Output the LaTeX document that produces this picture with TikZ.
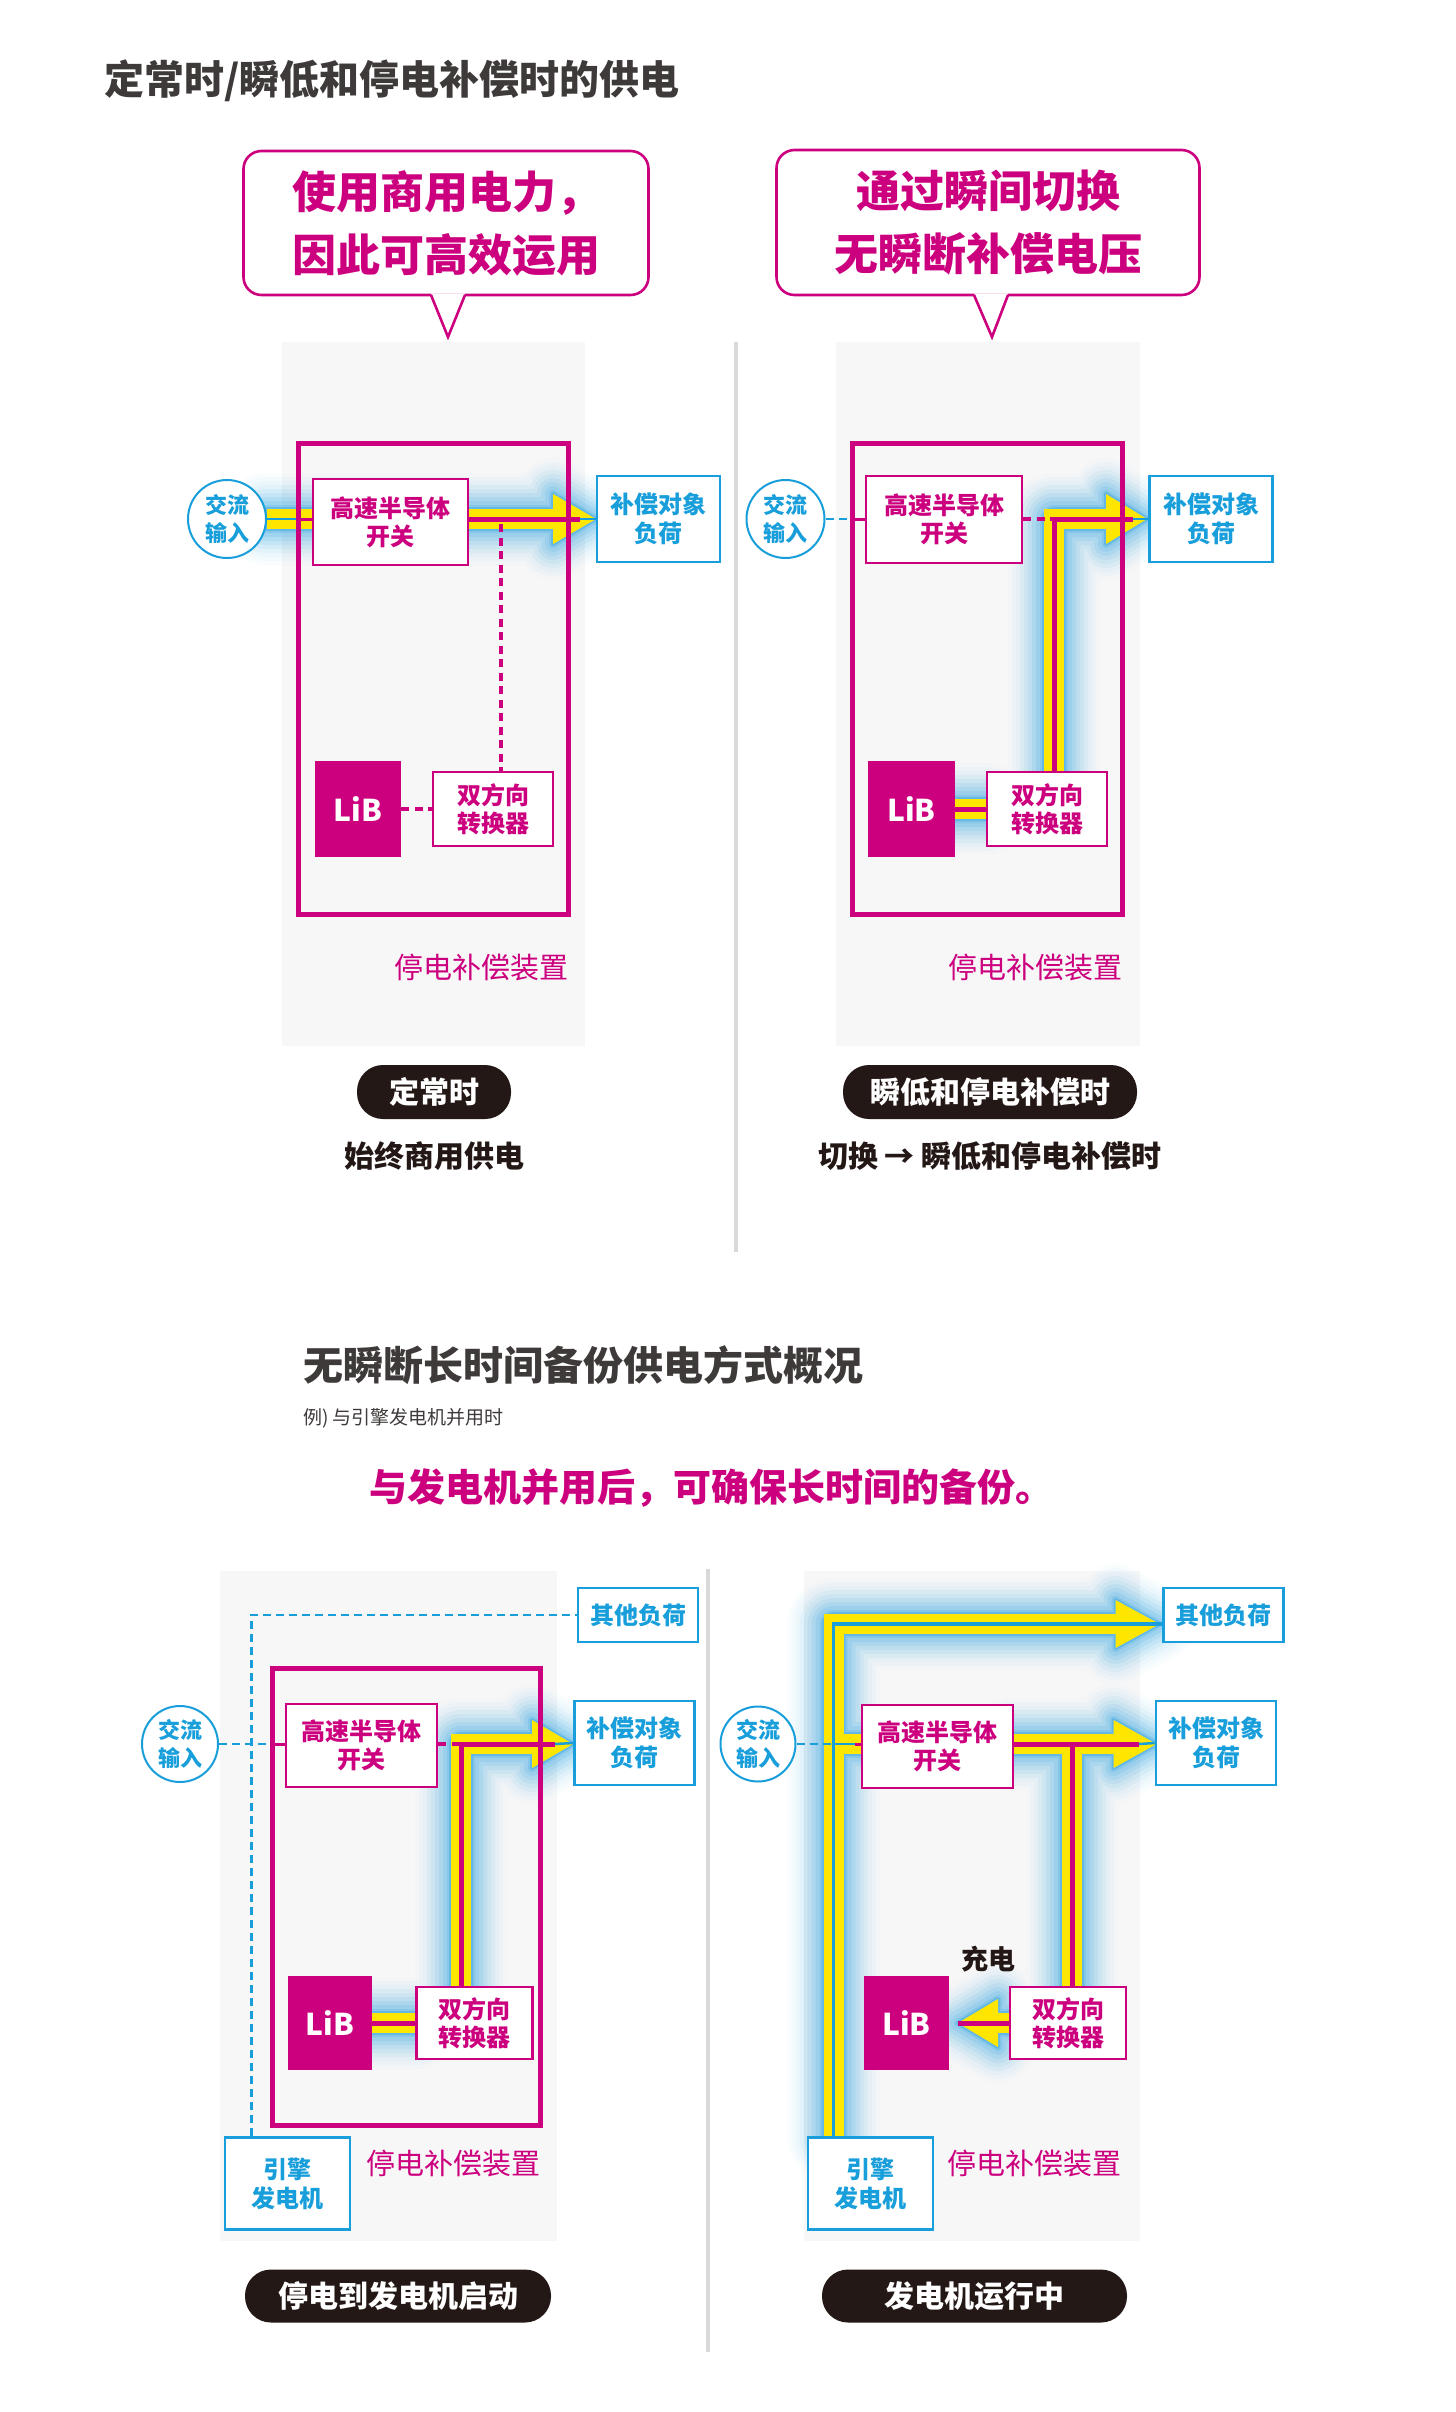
\documentclass[tikz,border=0pt]{standalone}
\usepackage{fontspec}
\setmainfont{Noto Sans CJK SC}
\usepackage{xcolor}
\usetikzlibrary{positioning, backgrounds}

\definecolor{mag}{RGB}{204,0,126}
\definecolor{cyn}{RGB}{24,158,218}
\definecolor{yel}{RGB}{255,230,0}
\definecolor{glowc}{RGB}{40,160,226}
\definecolor{panelgray}{RGB}{248,247,248}
\definecolor{pillc}{RGB}{35,24,21}
\definecolor{titlec}{RGB}{62,58,57}
\definecolor{sepc}{RGB}{217,217,217}

% yellow power paths, drawn twice (glow, then band)
\newcommand\bandways{(AC1.east) -- (H1)
	(K2 |- CV2.north) -- (K2) -- (H2)
	(LiB2.east) -- (CV2.west)
	(K3 |- CV3.north) -- (K3) -- (H3)
	(LiB3.east) -- (CV3.west)
	(K4 |- GN4.north) -- (K4) -- (H4a)
	(J4) -- (SW4.west |- J4)
	(SW4.east |- J4) -- (H4b)
	(J4b) -- (J4b |- CV4.north)
	(CV4.west) -- (H4c)}
\newcommand\tipways{([yshift=25pt]H1) -- ([xshift=43pt]H1) -- ([yshift=-25pt]H1) -- cycle
	([yshift=25pt]H2) -- ([xshift=41pt]H2) -- ([yshift=-25pt]H2) -- cycle
	([yshift=24pt]H3) -- ([xshift=41pt]H3) -- ([yshift=-24pt]H3) -- cycle
	([yshift=24pt]H4a) -- ([xshift=44pt]H4a) -- ([yshift=-24pt]H4a) -- cycle
	([yshift=24pt]H4b) -- ([xshift=43pt]H4b) -- ([yshift=-24pt]H4b) -- cycle
	([yshift=24pt]H4c) -- ([xshift=-40pt]H4c) -- ([yshift=-24pt]H4c) -- cycle}

\begin{document}
\begin{tikzpicture}[x=1pt, y=-1pt,
			swbox/.style={draw=mag, line width=2.6pt, fill=white, text=mag, align=center, inner sep=0pt,
				font=\bfseries\fontsize{24}{28}\selectfont},
			ldbox/.style={draw=cyn, line width=2.6pt, fill=white, text=cyn, align=center, inner sep=0pt,
				font=\bfseries\fontsize{24}{29}\selectfont},
			acnode/.style={circle, draw=cyn, line width=2pt, fill=white, text=cyn, align=center, inner sep=0pt,
				minimum size=78pt, font=\bfseries\fontsize{22}{28}\selectfont},
			libnode/.style={fill=mag, text=white, inner sep=0pt, minimum width=86pt, minimum height=96pt,
				font=\bfseries\fontsize{30}{30}\selectfont},
			device/.style={draw=mag, line width=5pt},
			devlabel/.style={anchor=east, text=mag, inner sep=0pt, font=\fontsize{29}{29}\selectfont},
			bubble/.style={draw=mag, line width=2.6pt, fill=white, rounded corners=18pt, text=mag, align=center,
				inner sep=0pt, font=\bfseries\fontsize{44}{63}\selectfont},
			pill/.style={fill=pillc, text=white, rounded corners=26pt, inner sep=0pt, minimum height=54pt,
				font=\bfseries\fontsize{30}{30}\selectfont},
			caption/.style={text=pillc, inner sep=0pt, font=\bfseries\fontsize{30}{30}\selectfont},
			heading/.style={anchor=west, text=titlec, inner sep=0pt, font=\bfseries\fontsize{40}{40}\selectfont},
			band/.style={draw=yel, line width=20pt},
			magline/.style={draw=mag, line width=5pt},
			magstub/.style={draw=mag, line width=3pt},
			magdash/.style={draw=mag, line width=4.5pt, dash pattern=on 8pt off 5.5pt},
			cyline/.style={draw=cyn, line width=2.5pt},
			cydash/.style={draw=cyn, line width=2.4pt, dash pattern=on 8pt off 5pt},
			sepline/.style={draw=sepc, line width=4pt}]

			\useasboundingbox (0,0) rectangle (1456,2412);

%			headings
			\node[heading] (T1) at (104,81) {定常时/瞬低和停电补偿时的供电};
			\node[heading] (T2) at (303,1365) {无瞬断长时间备份供电方式概况};
			\node[anchor=west, text=titlec, inner sep=0pt, font=\fontsize{19}{19}\selectfont] (T3) at (303,1418) {例) 与引擎发电机并用时};
			\node[anchor=west, text=mag, inner sep=0pt, font=\bfseries\fontsize{38}{38}\selectfont] (T4) at (369,1488) {与发电机并用后，可确保长时间的备份。};

%			speech bubbles
			\node[bubble, minimum width=405pt, minimum height=144pt] (B1) at (446,223) {使用商用电力，\\因此可高效运用};
			\coordinate (tail1) at (448,337);
			\fill[white] ([xshift=-15pt,yshift=3pt]B1.south) -- (tail1) -- ([xshift=19pt,yshift=3pt]B1.south) -- cycle;
			\draw[mag, line width=2.6pt] ([xshift=-15pt,yshift=1.3pt]B1.south) -- (tail1) -- ([xshift=19pt,yshift=1.3pt]B1.south);
			\node[bubble, minimum width=423pt, minimum height=145pt] (B2) at (988,222.5) {通过瞬间切换\\无瞬断补偿电压};
			\coordinate (tail2) at (992,337);
			\fill[white] ([xshift=-14pt,yshift=3pt]B2.south) -- (tail2) -- ([xshift=20pt,yshift=3pt]B2.south) -- cycle;
			\draw[mag, line width=2.6pt] ([xshift=-14pt,yshift=1.3pt]B2.south) -- (tail2) -- ([xshift=20pt,yshift=1.3pt]B2.south);

%			panel 1: normal
			\node[acnode] (AC1) at (227,519) {交流\\输入};
			\node[swbox, minimum width=155pt, minimum height=86pt] (SW1) at (390.5,522) {高速半导体\\开关};
			\node[ldbox, minimum width=123pt, minimum height=86pt] (LD1) at (658.5,519) {补偿对象\\负荷};
			\node[libnode] (LiB1) at (358,809) {LiB};
			\node[swbox, minimum width=120pt, minimum height=74pt] (CV1) at (493,809) {双方向\\转换器};
			\node[devlabel] (DL1) at (569,967) {停电补偿装置};

%			panel 2: sag / outage
			\node[acnode] (AC2) at (785.5,519) {交流\\输入};
			\node[swbox, minimum width=156pt, minimum height=87pt] (SW2) at (944,519.5) {高速半导体\\开关};
			\node[ldbox, minimum width=123pt, minimum height=86pt] (LD2) at (1211,519) {补偿对象\\负荷};
			\node[libnode, minimum width=87pt] (LiB2) at (911.5,809) {LiB};
			\node[swbox, minimum width=120pt, minimum height=74pt] (CV2) at (1047,809) {双方向\\转换器};
			\node[devlabel] (DL2) at (1123,967) {停电补偿装置};

%			panel 3: until generator starts
			\node[ldbox, minimum width=120pt, minimum height=54pt] (OL3) at (638,1615) {其他负荷};
			\node[acnode, minimum size=76pt] (AC3) at (180,1744) {交流\\输入};
			\node[swbox, minimum width=151pt, minimum height=83pt] (SW3) at (361.5,1745.5) {高速半导体\\开关};
			\node[ldbox, minimum width=120pt, minimum height=84pt] (LD3) at (634.6,1743) {补偿对象\\负荷};
			\node[libnode, minimum width=84pt, minimum height=94pt] (LiB3) at (330,2023) {LiB};
			\node[swbox, minimum width=116pt, minimum height=72pt] (CV3) at (474.3,2023) {双方向\\转换器};
			\node[ldbox, minimum width=125pt, minimum height=92pt] (GN3) at (287.5,2183.6) {引擎\\发电机};
			\node[devlabel] (DL3) at (541,2163) {停电补偿装置};

%			panel 4: generator running
			\node[ldbox, minimum width=120pt, minimum height=54pt] (OL4) at (1223.3,1615) {其他负荷};
			\node[acnode, minimum size=75pt] (AC4) at (758,1744) {交流\\输入};
			\node[swbox, minimum width=151pt, minimum height=83pt] (SW4) at (937.5,1746.5) {高速半导体\\开关};
			\node[ldbox, minimum width=120pt, minimum height=84pt] (LD4) at (1216,1743) {补偿对象\\负荷};
			\node[libnode, minimum width=85pt, minimum height=94pt] (LiB4) at (906.5,2023) {LiB};
			\node[swbox, minimum width=116pt, minimum height=72pt] (CV4) at (1068,2023) {双方向\\转换器};
			\node[ldbox, minimum width=125pt, minimum height=92pt] (GN4) at (870.3,2183.6) {引擎\\发电机};
			\node[text=pillc, inner sep=0pt, font=\bfseries\fontsize{27}{27}\selectfont] (CH4) at (988,1959.5) {充电};
			\node[devlabel] (DL4) at (1122,2163) {停电补偿装置};

%			state pills
			\node[pill, minimum width=154pt] (P1) at (434,1092) {定常时};
			\node[caption, below=22pt of P1] (C1) {始终商用供电};
			\node[pill, minimum width=294pt] (P2) at (990,1092) {瞬低和停电补偿时};
			\node[caption, below=22pt of P2] (C2) {切换 → 瞬低和停电补偿时};
			\node[pill, minimum width=306pt, minimum height=53pt] (P3) at (398,2296) {停电到发电机启动};
			\node[pill, minimum width=305pt, minimum height=53pt] (P4) at (974.5,2296) {发电机运行中};

%			path corners and arrow bases
			\coordinate (E1) at (298,519);  \coordinate (M1) at (580,519);  \coordinate (H1) at (553,519);
			\coordinate (D1) at (501,524);
			\coordinate (E2) at (852,519);  \coordinate (K2) at (1054,519); \coordinate (M2) at (1133,519);
			\coordinate (H2) at (1106,519);
			\coordinate (G3) at (251.5,1615); \coordinate (E3) at (272,1744); \coordinate (K3) at (461,1744);
			\coordinate (M3) at (555,1744);  \coordinate (H3) at (532,1744);
			\coordinate (K4) at (833.5,1624); \coordinate (J4) at (833.5,1744); \coordinate (S4) at (855,1744);
			\coordinate (J4b) at (1072,1744); \coordinate (M4) at (1139,1744);
			\coordinate (H4a) at (1115.5,1624); \coordinate (H4b) at (1113.5,1744); \coordinate (H4c) at (998,2023);

			\begin{scope}[on background layer]
				\fill[white] (0,0) rectangle (1456,2412);
				\fill[panelgray] (282,342) rectangle (585,1046);
				\fill[panelgray] (836,342) rectangle (1140,1046);
				\fill[panelgray] (220,1571) rectangle (557,2241);
				\fill[panelgray] (804,1571) rectangle (1140,2241);
				\draw[sepline] (736,342) -- (736,1252);
				\draw[sepline] (708,1569) -- (708,2352);

%				blue glow round the power paths, fading outwards
				\foreach \d/\o in {36/.02, 32/.03, 28/.032, 24/.055, 20/.07, 16/.085, 12/.11, 8/.135, 4/.175, 2/.36} {
					\begin{scope}[transparency group, opacity=\o]
						\draw[glowc, line width=20pt+2*\d pt, line cap=round, line join=round] \bandways;
						\filldraw[glowc, line width=2*\d pt, line join=round] \tipways;
					\end{scope}
				}
				\draw[band] \bandways;
				\fill[yel] \tipways;

%				panel 1
				\draw[cyline] (AC1.east) -- (E1);
				\draw[magstub] (E1) -- (SW1.west |- E1);
				\draw[magline] (SW1.east |- E1) -- (M1);
				\draw[cyline] (M1) -- (LD1.west);
				\draw[magdash] (D1) -- (D1 |- CV1.north);
				\draw[magdash] (LiB1.east) -- (CV1.west);
%				panel 2
				\draw[cydash] (AC2.east) -- (E2);
				\draw[magstub] (E2) -- (SW2.west |- E2);
				\draw[magdash] (SW2.east |- E2) -- (K2);
				\draw[magline] (K2 |- CV2.north) -- (K2) -- (M2);
				\draw[cyline] (M2) -- (LD2.west);
				\draw[magline] (LiB2.east) -- (CV2.west);
%				panel 3
				\draw[cydash] (GN3.north -| G3) -- (G3) -- (OL3.west);
				\draw[cydash] (AC3.east) -- (E3);
				\draw[magstub] (E3) -- (SW3.west |- E3);
				\draw[magdash] (SW3.east |- E3) -- (K3);
				\draw[magline] (K3 |- CV3.north) -- (K3) -- (M3);
				\draw[cyline] (M3) -- (LD3.west);
				\draw[magline] (LiB3.east) -- (CV3.west);
%				panel 4
				\draw[cyn, line width=3.3pt] (K4 |- GN4.north) -- (K4) -- (OL4.west |- K4);
				\draw[cydash] (AC4.east) -- (J4);
				\draw[cyline] (J4) -- (S4);
				\draw[magstub] (S4) -- (SW4.west |- S4);
				\draw[magline] (SW4.east |- J4) -- (M4);
				\draw[cyline] (M4) -- (LD4.west);
				\draw[magline] (J4b) -- (J4b |- CV4.north);
				\draw[magline] (CV4.west) -- ([xshift=-40pt]H4c);
			\end{scope}

%			device frames over the paths
			\draw[device] (298,443) rectangle (568,914);
			\draw[device] (852,443) rectangle (1122,914);
			\draw[device] (272,1668) rectangle (540,2125);
		\end{tikzpicture}
\end{document}
